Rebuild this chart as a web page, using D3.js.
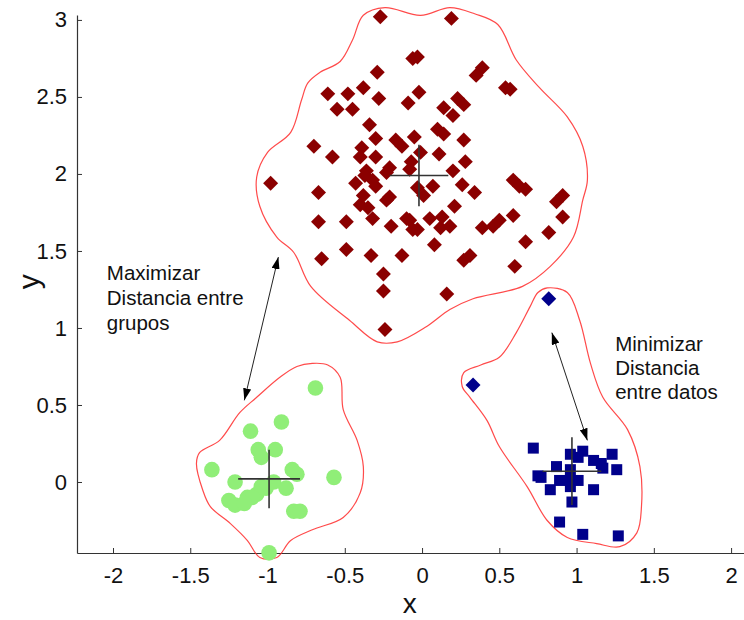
<!DOCTYPE html>
<html>
<head>
<meta charset="utf-8">
<script src="https://cdn.jsdelivr.net/npm/d3@7"></script>
<style>
  html, body { margin: 0; padding: 0; background: #fff; }
  svg { display: block; font-family: "Liberation Sans", Arial, Helvetica, sans-serif; }
</style>
</head>
<body>
<svg id="chart" width="744" height="620"></svg>
<script>
// Cluster A: dark red diamonds (upper cluster)
const groupA = [
  [-0.27,3.02],[0.19,3.01],[-0.06,2.75],[-0.03,2.76],[-0.29,2.66],[-0.61,2.52],[-0.48,2.52],
  [-0.38,2.56],[-0.28,2.49],[-0.55,2.42],[-0.45,2.42],[-0.09,2.46],[-0.02,2.53],[0.39,2.69],
  [0.35,2.64],[0.57,2.55],[0.54,2.56],[0.23,2.49],[0.27,2.45],[0.14,2.43],[0.20,2.38],
  [0.10,2.29],[0.14,2.26],[-0.05,2.24],[0.27,2.22],[-0.01,2.14],[0.11,2.13],[0.28,2.08],
  [0.20,2.02],[-0.34,2.32],[-0.30,2.23],[-0.70,2.18],[-0.58,2.11],[-0.39,2.17],[-0.40,2.11],
  [-0.30,2.11],[-0.17,2.22],[-0.13,2.18],[-0.07,2.08],[-0.36,2.02],[-0.21,2.04],[-0.98,1.94],
  [-0.67,1.88],[-0.43,1.94],[-0.37,1.99],[-0.32,1.96],[-0.30,1.92],[-0.23,2.01],[-0.38,1.86],
  [-0.23,1.83],[-0.21,1.85],[-0.40,1.80],[-0.35,1.78],[-0.32,1.71],[-0.08,2.03],[-0.03,1.91],
  [0.01,1.86],[0.07,1.92],[0.26,1.93],[0.34,1.88],[0.59,1.96],[0.63,1.92],[0.67,1.90],
  [0.91,1.86],[0.87,1.82],[0.91,1.72],[0.21,1.79],[0.05,1.71],[0.13,1.72],[0.12,1.65],
  [0.18,1.66],[-0.08,1.70],[-0.06,1.64],[-0.03,1.64],[0.08,1.54],[0.39,1.65],[0.46,1.66],
  [0.50,1.70],[0.59,1.73],[0.67,1.56],[0.82,1.62],[0.27,1.44],[0.31,1.47],[0.60,1.40],
  [0.16,1.22],[-0.67,1.69],[-0.49,1.69],[-0.20,1.66],[-0.10,1.71],[-0.65,1.45],[-0.49,1.51],
  [-0.33,1.47],[-0.13,1.47],[-0.25,1.35],[-0.25,1.24],[-0.24,0.99]
];

// Cluster B: light green circles (lower left)
const groupB = [
  [-0.69,0.61],[-0.91,0.39],[-1.11,0.33],[-1.06,0.21],[-1.04,0.16],[-0.95,0.21],[-1.36,0.08],
  [-0.84,0.08],[-0.81,0.05],[-0.57,0.03],[-1.21,0.00],[-0.96,0.00],[-0.88,-0.04],[-1.04,-0.03],
  [-1.01,-0.04],[-1.07,-0.08],[-1.13,-0.10],[-1.10,-0.10],[-1.25,-0.12],[-1.21,-0.15],
  [-1.15,-0.14],[-0.83,-0.19],[-0.79,-0.19],[-0.99,-0.46]
];

// Cluster C: dark blue squares (lower right) plus two outlying blue diamonds
const groupC = [
  [0.72,0.22],[0.96,0.18],[1.01,0.16],[1.04,0.20],[1.11,0.14],[1.16,0.12],[1.23,0.18],
  [1.26,0.08],[1.17,0.09],[0.87,0.10],[0.75,0.04],[0.77,0.03],[0.96,0.08],[0.96,0.01],
  [0.89,0.01],[1.01,0.01],[0.83,-0.05],[0.96,-0.03],[1.11,-0.05],[0.97,-0.13],[0.89,-0.26],
  [1.04,-0.34],[1.27,-0.35]
];
const groupCOutliers = [[0.82,1.19],[0.33,0.63]];

// Cluster centroids and the half-length of each cross arm
const centroids = [[-0.02,1.99],[-0.99,0.02],[0.97,0.07]];
const crossHalf = [[0.19,0.20],[0.20,0.19],[0.19,0.22]];

// Hand-drawn boundaries around each cluster
const boundaryA = [
  [-0.38,3.03],[-0.24,3.08],[-0.01,3.03],[0.18,3.08],[0.34,3.04],[0.49,2.97],[0.61,2.74],
  [0.76,2.56],[0.94,2.37],[1.04,2.18],[1.07,1.96],[1.04,1.83],[0.98,1.59],[0.83,1.40],
  [0.65,1.27],[0.33,1.19],[0.18,1.12],[0.03,1.01],[-0.16,0.91],[-0.29,0.91],[-0.47,1.05],
  [-0.72,1.27],[-0.83,1.49],[-0.94,1.59],[-1.05,1.79],[-1.07,1.98],[-1.00,2.14],[-0.85,2.27],
  [-0.78,2.48],[-0.74,2.59],[-0.66,2.66],[-0.53,2.73],[-0.45,2.87]
];
const boundaryB = [
  [-0.61,0.76],[-0.53,0.68],[-0.51,0.47],[-0.42,0.27],[-0.38,0.10],[-0.40,-0.07],[-0.51,-0.23],
  [-0.71,-0.31],[-0.85,-0.38],[-0.94,-0.49],[-1.05,-0.49],[-1.13,-0.38],[-1.24,-0.27],
  [-1.37,-0.16],[-1.42,-0.05],[-1.46,0.12],[-1.44,0.19],[-1.31,0.27],[-1.18,0.45],[-1.07,0.55],
  [-0.92,0.68],[-0.81,0.75],[-0.71,0.77]
];
const boundaryC = [
  [0.81,1.26],[0.94,1.23],[1.02,1.05],[1.09,0.77],[1.17,0.55],[1.33,0.34],[1.41,0.10],
  [1.42,-0.16],[1.39,-0.33],[1.28,-0.42],[1.13,-0.40],[0.94,-0.36],[0.81,-0.25],[0.68,-0.03],
  [0.50,0.23],[0.42,0.40],[0.31,0.55],[0.26,0.62],[0.27,0.71],[0.38,0.76],[0.50,0.81],
  [0.61,0.97],[0.70,1.14],[0.75,1.23]
];

// Double-headed annotation arrows
const arrows = [
  [[-0.93,1.46],[-1.15,0.53]],
  [[0.84,0.97],[1.07,0.27]]
];
const annotations = [
  { lines: ["Maximizar", "Distancia entre", "grupos"], at: [-2.04, 1.31], step: 25 },
  { lines: ["Minimizar", "Distancia", "entre datos"], at: [1.25, 0.85], step: 24 }
];

const xTicks = [-2, -1.5, -1, -0.5, 0, 0.5, 1, 1.5, 2];
const yTicks = [0, 0.5, 1, 1.5, 2, 2.5, 3];
const xTitle = "x";
const yTitle = "y";

const svg = d3.select("#chart");
const x = d3.scaleLinear().domain([-2.233, 2.09]).range([77, 745]);
const y = d3.scaleLinear().domain([-0.461, 3.032]).range([553, 15]);

const fmt = d => String(d);

// Axes (ticks point into the plot area)
const gx = svg.append("g").attr("transform", `translate(0,${y(-0.461)})`)
  .call(d3.axisBottom(x).tickValues(xTicks).tickFormat(fmt).tickSize(-5).tickSizeOuter(0).tickPadding(14));
const gy = svg.append("g").attr("transform", `translate(${x(-2.233)},0)`)
  .call(d3.axisLeft(y).tickValues(yTicks).tickFormat(fmt).tickSize(-5).tickSizeOuter(0).tickPadding(10));
[gx, gy].forEach(g => {
  g.select(".domain").attr("stroke", "#333").attr("stroke-width", 1.2);
  g.selectAll(".tick line").attr("stroke", "#333");
  g.selectAll(".tick text").attr("font-size", 22).attr("fill", "#111")
    .attr("font-family", "'Liberation Sans', Arial, sans-serif");
});

svg.append("text").attr("x", x(-0.08)).attr("y", 613).attr("text-anchor", "middle")
  .attr("font-size", 28).attr("fill", "#111").text(xTitle);
svg.append("text").attr("transform", `translate(39,${y(1.3)}) rotate(-90)`)
  .attr("text-anchor", "middle").attr("font-size", 30).attr("fill", "#111").text(yTitle);

// Boundaries
const outline = d3.line().x(d => x(d[0])).y(d => y(d[1])).curve(d3.curveCatmullRomClosed.alpha(0.5));
[boundaryA, boundaryB, boundaryC].forEach(b => {
  svg.append("path").attr("d", outline(b)).attr("fill", "none")
    .attr("stroke", "#ff2a2a").attr("stroke-opacity", 0.85).attr("stroke-width", 1.2);
});

// Points
const diamond = d3.symbol().type(d3.symbolSquare).size(112)();
const square = d3.symbol().type(d3.symbolSquare).size(121)();

svg.append("g").selectAll("path").data(groupA).join("path")
  .attr("d", diamond)
  .attr("transform", d => `translate(${x(d[0])},${y(d[1])}) rotate(45)`)
  .attr("fill", "#8b0000");

svg.append("g").selectAll("circle").data(groupB).join("circle")
  .attr("cx", d => x(d[0])).attr("cy", d => y(d[1])).attr("r", 7.8)
  .attr("fill", "#90ee78");

svg.append("g").selectAll("path").data(groupC).join("path")
  .attr("d", square)
  .attr("transform", d => `translate(${x(d[0])},${y(d[1])})`)
  .attr("fill", "#00008b");

svg.append("g").selectAll("path").data(groupCOutliers).join("path")
  .attr("d", diamond)
  .attr("transform", d => `translate(${x(d[0])},${y(d[1])}) rotate(45)`)
  .attr("fill", "#00008b");

// Centroid crosses
centroids.forEach((c, i) => {
  const [hx, hy] = crossHalf[i];
  const g = svg.append("g").attr("stroke", "#333").attr("stroke-width", 1.6);
  g.append("line").attr("x1", x(c[0] - hx)).attr("x2", x(c[0] + hx)).attr("y1", y(c[1])).attr("y2", y(c[1]));
  g.append("line").attr("x1", x(c[0])).attr("x2", x(c[0])).attr("y1", y(c[1] - hy)).attr("y2", y(c[1] + hy));
});

// Arrows
svg.append("defs").append("marker")
  .attr("id", "head").attr("viewBox", "0 0 12 8").attr("refX", 12).attr("refY", 4)
  .attr("markerWidth", 12).attr("markerHeight", 8).attr("markerUnits", "userSpaceOnUse")
  .attr("orient", "auto-start-reverse")
  .append("path").attr("d", "M0,0 L12,4 L0,8 Z").attr("fill", "#000");
arrows.forEach(a => {
  svg.append("line")
    .attr("x1", x(a[0][0])).attr("y1", y(a[0][1]))
    .attr("x2", x(a[1][0])).attr("y2", y(a[1][1]))
    .attr("stroke", "#222").attr("stroke-width", 1)
    .attr("marker-start", "url(#head)").attr("marker-end", "url(#head)");
});

// Annotation text
annotations.forEach(a => {
  const t = svg.append("text").attr("x", x(a.at[0])).attr("y", y(a.at[1]))
    .attr("font-size", 20.5).attr("fill", "#111");
  a.lines.forEach((l, i) => {
    t.append("tspan").attr("x", x(a.at[0])).attr("dy", i === 0 ? 0 : a.step).text(l);
  });
});
</script>
</body>
</html>
